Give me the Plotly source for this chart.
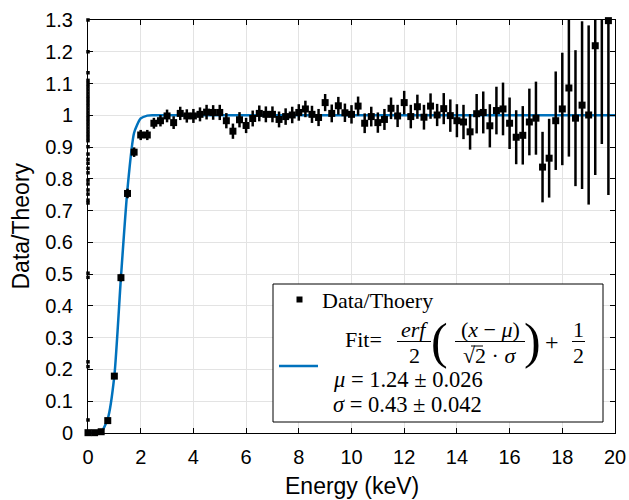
import plotly.graph_objects as go

# ---------------- data ----------------
energy = [0.0, 0.25, 0.5, 0.75, 1.0, 1.25, 1.5, 1.75, 2.0, 2.25,
          2.5, 2.75, 3.0, 3.25, 3.5, 3.75, 4.0, 4.25, 4.5, 4.75,
          5.0, 5.25, 5.5, 5.75, 6.0, 6.25, 6.5, 6.75, 7.0, 7.25,
          7.5, 7.75, 8.0, 8.25, 8.5, 8.75, 9.0, 9.25, 9.5, 9.75,
          10.0, 10.25, 10.5, 10.75, 11.0, 11.25, 11.5, 11.75, 12.0, 12.25,
          12.5, 12.75, 13.0, 13.25, 13.5, 13.75, 14.0, 14.25, 14.5, 14.75,
          15.0, 15.25, 15.5, 15.75, 16.0, 16.25, 16.5, 16.75, 17.0, 17.25,
          17.5, 17.75, 18.0, 18.25, 18.5, 18.75, 19.0, 19.25, 19.5, 19.75]
ratio = [0.001, 0.001, 0.004, 0.039, 0.179, 0.489, 0.754, 0.884, 0.938, 0.938,
         0.975, 0.983, 0.998, 0.977, 1.006, 0.998, 0.998, 1.003, 1.010, 1.009,
         1.009, 0.983, 0.950, 0.986, 0.968, 0.990, 1.006, 1.003, 1.003, 0.987,
         0.996, 1.001, 1.009, 1.020, 1.003, 0.993, 1.040, 1.006, 1.030, 1.008,
         1.003, 1.029, 0.975, 0.996, 0.977, 0.987, 1.022, 0.998, 1.040, 0.996,
         1.027, 0.994, 1.029, 1.001, 1.021, 0.999, 0.983, 0.979, 0.948, 1.005,
         1.009, 0.967, 1.015, 1.020, 0.975, 0.931, 0.937, 0.979, 0.991, 0.837,
         0.865, 0.983, 1.020, 1.086, 0.991, 1.032, 1.001, 1.219, 1.450, 1.298]
ratio_err = [0.002, 0.002, 0.002, 0.004, 0.008, 0.012, 0.015, 0.015, 0.016, 0.016,
             0.017, 0.018, 0.020, 0.020, 0.021, 0.021, 0.022, 0.022, 0.023, 0.023,
             0.024, 0.024, 0.024, 0.024, 0.024, 0.025, 0.025, 0.025, 0.025, 0.025,
             0.026, 0.026, 0.026, 0.026, 0.027, 0.027, 0.027, 0.028, 0.028, 0.029,
             0.029, 0.030, 0.031, 0.031, 0.032, 0.033, 0.034, 0.035, 0.037, 0.037,
             0.038, 0.039, 0.040, 0.035, 0.049, 0.051, 0.052, 0.054, 0.056, 0.062,
             0.066, 0.068, 0.075, 0.083, 0.081, 0.085, 0.092, 0.105, 0.115, 0.111,
             0.124, 0.155, 0.177, 0.216, 0.214, 0.264, 0.282, 0.407, 0.540, 0.549]

# points piled up at E = 0
zero_energy = [0.0] * 40
zero_ratio = [1.300, 1.200, 1.134, 1.110, 1.100, 1.090, 1.080, 1.070, 1.060, 1.050,
              1.040, 1.030, 1.020, 1.010, 1.000, 0.990, 0.980, 0.970, 0.960, 0.950,
              0.940, 0.930, 0.920, 0.901, 0.878, 0.861, 0.849, 0.833, 0.819, 0.796,
              0.784, 0.765, 0.752, 0.733, 0.724, 0.503, 0.490, 0.224, 0.209, 0.041]

# fitted curve as drawn
fit_energy = [0.0, 0.25, 0.5, 0.75, 1.0, 1.25, 1.5, 1.75, 2.0, 2.25, 2.5, 20.0]
fit_ratio = [0.0, 0.0, 0.003, 0.045, 0.180, 0.490, 0.770, 0.945, 0.990, 0.999, 1.0, 1.0]

x_ticks = [0, 2, 4, 6, 8, 10, 12, 14, 16, 18, 20]
y_ticks = [0, 0.1, 0.2, 0.3, 0.4, 0.5, 0.6, 0.7, 0.8, 0.9, 1.0, 1.1, 1.2, 1.3]
y_tick_text = ["0", "0.1", "0.2", "0.3", "0.4", "0.5", "0.6", "0.7", "0.8", "0.9",
               "1", "1.1", "1.2", "1.3"]

# ---------------- geometry (window pixels; body margin removed below) ----------------
W, H = 629, 500
PL, PR, PT, PB = 88, 615, 20, 433          # plot box in window pixels
L, T = PL, PT
R, B = W - PR, H - PB
PW, PH = PR - PL, PB - PT


def pxx(x):
    return (x - PL) / PW


def pxy(y):
    return (PB - y) / PH


BLUE = "#0072BD"
SANS = "Liberation Sans, Arial, Helvetica, sans-serif"
SERIF = "Liberation Serif, Times New Roman, serif"

fig = go.Figure()

fig.add_trace(go.Scatter(
    x=fit_energy, y=fit_ratio, mode="lines",
    line=dict(color=BLUE, width=2.5, shape="spline", smoothing=0.6),
    showlegend=False, hoverinfo="skip"))

# error bars (clipped to the axes)
fig.add_trace(go.Scatter(
    x=energy, y=ratio, mode="markers",
    marker=dict(size=2, color="rgba(0,0,0,0)"),
    error_y=dict(type="data", array=ratio_err, visible=True,
                 color="black", thickness=2.5, width=0),
    showlegend=False, hoverinfo="skip"))

# markers (not clipped, like the original)
fig.add_trace(go.Scatter(
    x=energy, y=ratio, mode="markers",
    marker=dict(symbol="square", size=7, color="black"),
    cliponaxis=False, showlegend=False))

fig.add_trace(go.Scatter(
    x=zero_energy, y=zero_ratio, mode="markers",
    marker=dict(symbol="square", size=3.5, color="black"),
    cliponaxis=False, showlegend=False))

axis_common = dict(
    showline=True, linecolor="black", linewidth=1, mirror="ticks",
    ticks="inside", ticklen=5, tickcolor="black", tickwidth=1,
    showgrid=True, gridcolor="#e3e3e3", gridwidth=1, zeroline=False,
    tickfont=dict(family=SANS, size=20, color="black"), automargin=False)

fig.update_xaxes(range=[0, 20], tickvals=x_ticks, ticklabelstandoff=6, **axis_common)
fig.update_yaxes(range=[0, 1.3], tickvals=y_ticks, ticktext=y_tick_text,
                 ticklabelstandoff=10, **axis_common)

# ---------------- axis titles + hand-built legend ----------------
shapes = []
ann = []

ann.append(dict(text="Energy (keV)", x=pxx((PL + PR) / 2), y=pxy(486), xref="paper", yref="paper",
                xanchor="center", yanchor="middle", showarrow=False,
                font=dict(family=SANS, size=23, color="black")))
ann.append(dict(text="Data/Theory", x=pxx(20), y=pxy((PT + PB) / 2), xref="paper", yref="paper",
                xanchor="center", yanchor="middle", showarrow=False, textangle=-90,
                font=dict(family=SANS, size=23, color="black")))

shapes.append(dict(type="rect", xref="paper", yref="paper", layer="above",
                   x0=pxx(273), x1=pxx(603), y0=pxy(422), y1=pxy(284),
                   fillcolor="white", line=dict(color="black", width=1)))
shapes.append(dict(type="rect", xref="paper", yref="paper", layer="above",
                   x0=pxx(296.5), x1=pxx(302.5), y0=pxy(302.5), y1=pxy(296.5),
                   fillcolor="black", line=dict(width=0)))
shapes.append(dict(type="line", xref="paper", yref="paper", layer="above",
                   x0=pxx(279), x1=pxx(318), y0=pxy(366), y1=pxy(366),
                   line=dict(color=BLUE, width=2.5)))
# fraction bars
for (a, b) in [(397, 431), (455, 525), (572, 585)]:
    shapes.append(dict(type="line", xref="paper", yref="paper", layer="above",
                       x0=pxx(a), x1=pxx(b), y0=pxy(341.5), y1=pxy(341.5),
                       line=dict(color="black", width=1)))
# radical vinculum
shapes.append(dict(type="line", xref="paper", yref="paper", layer="above",
                   x0=pxx(471), x1=pxx(483), y0=pxy(346), y1=pxy(346),
                   line=dict(color="black", width=1)))


def text(s, x, y, size=22, xanchor="center", family=SERIF):
    ann.append(dict(text=s, x=pxx(x), y=pxy(y), xref="paper", yref="paper",
                    xanchor=xanchor, yanchor="middle", showarrow=False,
                    font=dict(family=family, size=size, color="black")))


text("Data/Thoery", 320, 300, 22, "left")
text("Fit=", 363, 339, 22)
text("<i>erf</i>", 414, 329, 22)
text("2", 414, 355, 22)
text("(", 439, 341, 50)
text("(<i>x</i> − <i>μ</i>)", 490, 329, 22)
text("√2 · <i>σ</i>", 489, 355, 22)
text(")", 532, 341, 50)
text("+", 552, 342, 24)
text("1", 578, 329, 22)
text("2", 578, 355, 22)
text("<i>μ</i> = 1.24 ± 0.026", 331, 379, 22.5, "left")
text("<i>σ</i> = 0.43 ± 0.042", 331, 404, 22.5, "left")

fig.update_layout(
    width=W, height=H,
    margin=dict(l=L, r=R, t=T, b=B, pad=0),
    plot_bgcolor="white", paper_bgcolor="white",
    showlegend=False, shapes=shapes, annotations=ann,
    font=dict(family=SANS, color="black"))

fig.write_html(
    "out.html",
    config={"displayModeBar": False, "staticPlot": True},
    post_script="document.body.style.margin='0';document.body.style.overflow='hidden';")
